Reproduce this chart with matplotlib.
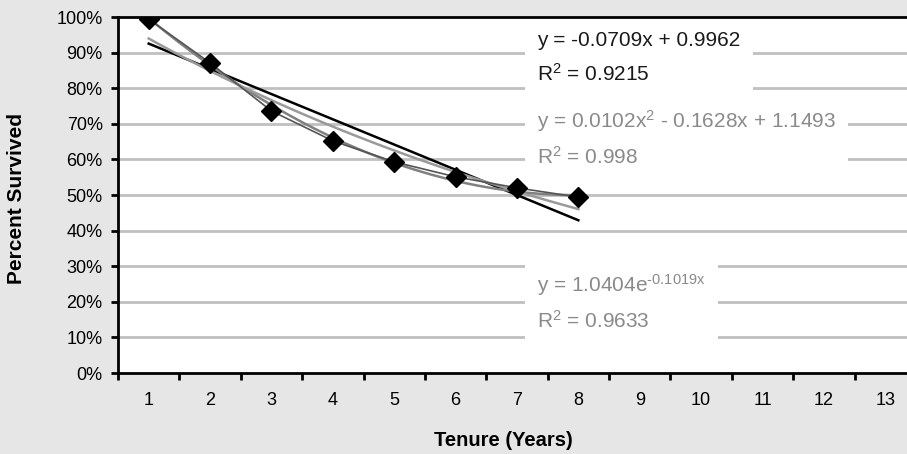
import numpy as np
import matplotlib

matplotlib.use("Agg")
import matplotlib.pyplot as plt
from matplotlib.ticker import FixedLocator, FuncFormatter

plt.rcParams["font.family"] = ["Liberation Sans", "DejaVu Sans"]
plt.rcParams["mathtext.fontset"] = "custom"
plt.rcParams["mathtext.rm"] = "Liberation Sans"
plt.rcParams["mathtext.default"] = "regular"
plt.rcParams["axes.unicode_minus"] = False

# data
tenure = [1, 2, 3, 4, 5, 6, 7, 8]
survived = [0.994, 0.871, 0.736, 0.652, 0.593, 0.551, 0.520, 0.494]
categories = list(range(1, 14))
y_ticks = [0.0, 0.1, 0.2, 0.3, 0.4, 0.5, 0.6, 0.7, 0.8, 0.9, 1.0]

# fitted trendlines as printed on the chart
lin_coef = (-0.0709, 0.9962)
poly_coef = (0.0102, -0.1628, 1.1493)
exp_coef = (1.0404, -0.1019)

lin_label = "y = -0.0709x + 0.9962\nR$^{2}$ = 0.9215"
poly_label = "y = 0.0102x$^{2}$ - 0.1628x + 1.1493\nR$^{2}$ = 0.998"
exp_label = "y = 1.0404e$^{\\text{-0.1019x}}$\nR$^{2}$ = 0.9633"

BG = "#e6e6e6"
GRID = "#c0c0c0"
L, R, T, B = 118, 916, 17, 373  # plot area in pixels (right edge runs past the image)

fig = plt.figure(figsize=(9.07, 4.54), dpi=100, facecolor=BG)
ax = fig.add_axes([L / 907, 1 - B / 454, (R - L) / 907, (B - T) / 454])
ax.set_facecolor("white")
ax.set_xlim(0.5, 13.5)
ax.set_ylim(0, 1.0)

for v in y_ticks[1:-1]:
    ax.axhline(v, color=GRID, lw=2, zorder=1)

xs = np.linspace(tenure[0], tenure[-1], 100)
ax.plot(xs, lin_coef[0] * xs + lin_coef[1], color="black", lw=1.8, zorder=3)
ax.plot(xs, np.polyval(poly_coef, xs), color="#808080", lw=1.8, zorder=3)
ax.plot(xs, exp_coef[0] * np.exp(exp_coef[1] * xs), color="#9a9a9a", lw=1.8, zorder=3)
ax.plot(tenure, survived, color="#555555", lw=1.2, marker="D", markersize=10,
        markerfacecolor="black", markeredgecolor="black", zorder=4)


def px(x, y):
    # figure pixel -> axes fraction
    return (x - L) / (R - L), (B - y) / (B - T)


box = dict(facecolor="white", edgecolor="none", pad=9)
ax.text(*px(537, 58), lin_label, transform=ax.transAxes, fontsize=15, color="#1a1a1a",
        va="center", ha="left", linespacing=1.7, bbox=box, zorder=2)
ax.text(*px(537, 138), poly_label, transform=ax.transAxes, fontsize=15, color="#8a8a8a",
        va="center", ha="left", linespacing=1.7, bbox=box, zorder=2)
ax.text(*px(537, 302), exp_label, transform=ax.transAxes, fontsize=15, color="#8a8a8a",
        va="center", ha="left", linespacing=1.7, bbox=box, zorder=2)

ax.yaxis.set_major_locator(FixedLocator(y_ticks))
ax.yaxis.set_major_formatter(FuncFormatter(lambda v, p: f"{v:.0%}"))
ax.xaxis.set_major_locator(FixedLocator([c - 0.5 for c in categories] + [13.5]))
ax.xaxis.set_major_formatter(FuncFormatter(lambda v, p: ""))
ax.xaxis.set_minor_locator(FixedLocator(categories))
ax.xaxis.set_minor_formatter(FuncFormatter(lambda v, p: f"{v:.0f}"))
ax.tick_params(axis="y", direction="out", length=5, width=2, labelsize=13, pad=6)
ax.tick_params(axis="x", which="major", direction="out", length=5, width=2)
ax.tick_params(axis="x", which="minor", length=0, labelsize=13, pad=14)

for side in ("left", "bottom", "top"):
    ax.spines[side].set_linewidth(2)
    ax.spines[side].set_color("black")
ax.spines["right"].set_visible(False)

fig.text(503 / 907, 1 - 440 / 454, "Tenure (Years)", ha="center", va="center",
         fontsize=14.5, fontweight="bold")
fig.text(17 / 907, 1 - 198 / 454, "Percent Survived", ha="center", va="center",
         rotation=90, fontsize=15, fontweight="bold")

fig.savefig("out.png", dpi=100, facecolor=BG)
